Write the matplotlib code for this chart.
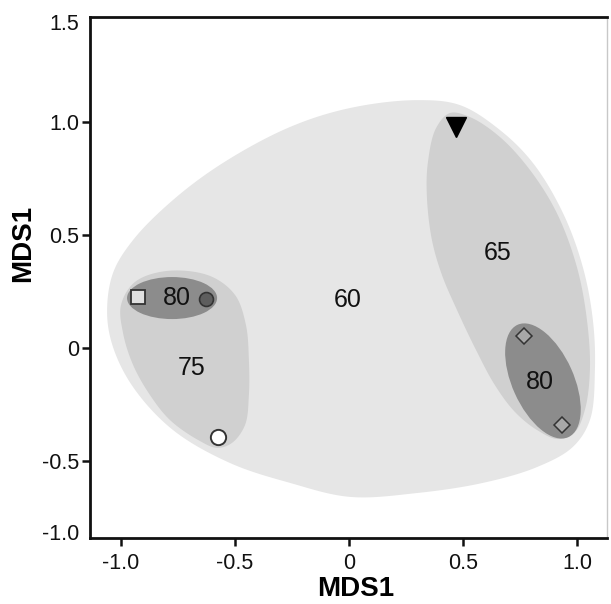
import numpy as np
import matplotlib
matplotlib.use("Agg")
import matplotlib.pyplot as plt
from matplotlib.patches import Ellipse

plt.rcParams['font.family'] = ['Liberation Sans', 'DejaVu Sans']

# ---------------- data ----------------
# sample points (MDS coordinates)
square_pt = (-0.925, 0.226)
dark_circle_pt = (-0.627, 0.217)
white_circle_pt = (-0.575, -0.394)
triangle_pt = (0.469, 0.978)
diamond_x = [0.768, 0.934]
diamond_y = [0.053, -0.341]

# similarity-level groups (outline points of hulls)
hull60_x = [-1.061, -1.035, -0.947, -0.772, -0.553, -0.259, 0.004, 0.298, 0.487, 0.662,
            0.807, 0.939, 1.026, 1.070, 1.079, 1.057, 0.982, 0.825, 0.588, 0.298,
            0.004, -0.259, -0.522, -0.772, -0.947, -1.035]
hull60_y = [0.155, 0.332, 0.478, 0.655, 0.819, 0.978, 1.062, 1.097, 1.075, 0.965,
            0.819, 0.597, 0.358, 0.124, -0.097, -0.319, -0.438, -0.527, -0.597, -0.642,
            -0.659, -0.597, -0.509, -0.363, -0.173, 0.004]

hull75_x = [-0.798, -0.610, -0.500, -0.452, -0.439, -0.439, -0.456, -0.513, -0.579, -0.662,
            -0.785, -0.873, -0.947, -0.991, -1.000, -0.939]
hull75_y = [0.341, 0.319, 0.235, 0.102, -0.053, -0.208, -0.341, -0.420, -0.442, -0.407,
            -0.319, -0.208, -0.075, 0.066, 0.190, 0.292]

hull65_x = [0.443, 0.531, 0.662, 0.794, 0.912, 1.000, 1.044, 1.057, 1.035, 0.991,
            0.917, 0.825, 0.728, 0.640, 0.553, 0.474, 0.408, 0.364, 0.342, 0.346, 0.382]
hull65_y = [1.040, 1.022, 0.934, 0.788, 0.597, 0.358, 0.124, -0.097, -0.274, -0.372,
            -0.403, -0.363, -0.283, -0.164, 0.000, 0.168, 0.323, 0.478, 0.668, 0.819, 0.973]

# 80% groups as ellipses: center x, center y, width, height, angle
ell80_left = (-0.776, 0.221, 0.395, 0.186, 0.0)
ell80_right = (0.851, -0.146, 0.545, 0.27, -66.0)

# group labels
label_text = ["60", "65", "75", "80", "80"]
label_x = [-0.004, 0.654, -0.689, -0.754, 0.838]
label_y = [0.212, 0.420, -0.088, 0.221, -0.150]

x_ticks = [-1.0, -0.5, 0.0, 0.5, 1.0]
x_ticklabels = ["-1.0", "-0.5", "0", "0.5", "1.0"]
y_ticks = [-0.814, -0.5, 0.0, 0.5, 1.0, 1.442]
y_ticklabels = ["-1.0", "-0.5", "0", "0.5", "1.0", "1.5"]
x_limits = (-1.136, 1.132)
y_limits = (-0.841, 1.465)


def closed_smooth(xs, ys, n=40, alpha=0.5):
    P = np.column_stack([xs, ys]).astype(float)
    N = len(P)
    out = []
    for i in range(N):
        p0, p1, p2, p3 = P[(i - 1) % N], P[i], P[(i + 1) % N], P[(i + 2) % N]
        t0 = 0.0
        t1 = t0 + np.linalg.norm(p1 - p0) ** alpha
        t2 = t1 + np.linalg.norm(p2 - p1) ** alpha
        t3 = t2 + np.linalg.norm(p3 - p2) ** alpha
        t = np.linspace(t1, t2, n, endpoint=False)[:, None]
        A1 = (t1 - t) / (t1 - t0) * p0 + (t - t0) / (t1 - t0) * p1
        A2 = (t2 - t) / (t2 - t1) * p1 + (t - t1) / (t2 - t1) * p2
        A3 = (t3 - t) / (t3 - t2) * p2 + (t - t2) / (t3 - t2) * p3
        B1 = (t2 - t) / (t2 - t0) * A1 + (t - t0) / (t2 - t0) * A2
        B2 = (t3 - t) / (t3 - t1) * A2 + (t - t1) / (t3 - t1) * A3
        C = (t2 - t) / (t2 - t1) * B1 + (t - t1) / (t2 - t1) * B2
        out.append(C)
    C = np.vstack(out)
    return C[:, 0], C[:, 1]


W, H = 611, 604
fig = plt.figure(figsize=(W / 100, H / 100), dpi=100)
ax = fig.add_axes([90 / W, 1 - 538 / H, 517 / W, 521 / H])

light = "#e6e6e6"
medium = "#d0d0d0"
dark = "#8c8c8c"

sx, sy = closed_smooth(hull60_x, hull60_y)
ax.fill(sx, sy, color=light, lw=0, zorder=1)
sx, sy = closed_smooth(hull75_x, hull75_y)
ax.fill(sx, sy, color=medium, lw=0, zorder=2)
sx, sy = closed_smooth(hull65_x, hull65_y)
ax.fill(sx, sy, color=medium, lw=0, zorder=2)

for e in (ell80_left, ell80_right):
    ax.add_patch(Ellipse((e[0], e[1]), e[2], e[3], angle=e[4], facecolor=dark,
                         edgecolor='none', zorder=3))

for t, x, y in zip(label_text, label_x, label_y):
    ax.text(x, y, t, fontsize=18, ha='center', va='center', color='#111111', zorder=5)

edge = '#333333'
ax.plot(*square_pt, marker='s', ms=10, mfc='#e0e0e0', mec=edge, mew=1.3, ls='none', zorder=6)
ax.plot(*dark_circle_pt, marker='o', ms=10, mfc='#5e5e5e', mec=edge, mew=1.2, ls='none', zorder=6)
ax.plot(*white_circle_pt, marker='o', ms=11, mfc='white', mec=edge, mew=1.4, ls='none', zorder=6)
ax.plot(*triangle_pt, marker='v', ms=15, mfc='black', mec='black', ls='none', zorder=6)
ax.plot(diamond_x, diamond_y, marker='D', ms=8.5, mfc='#a8a8a8', mec=edge, mew=1.1, ls='none', zorder=6)

ax.set_xlim(*x_limits)
ax.set_ylim(*y_limits)
ax.set_xticks(x_ticks)
ax.set_xticklabels(x_ticklabels)
ax.set_yticks(y_ticks)
ax.set_yticklabels(y_ticklabels)
ax.tick_params(axis='both', direction='out', length=6, width=1.8, labelsize=15.5, colors='#111111')
ax.tick_params(axis='y', pad=2)
ax.tick_params(axis='x', pad=5)
yt = ax.yaxis.get_major_ticks()
yt[0].tick1line.set_visible(False)
yt[-1].tick1line.set_visible(False)

for s in ('left', 'bottom', 'top'):
    ax.spines[s].set_linewidth(2.0)
    ax.spines[s].set_color('#111111')
ax.spines['right'].set_linewidth(1.0)
ax.spines['right'].set_color('#c8c8c8')

ax.set_xlabel("MDS1", fontsize=20, fontweight='bold')
ax.set_ylabel("MDS1", fontsize=20, fontweight='bold')
ax.xaxis.set_label_coords(0.513, -0.098)
ax.yaxis.set_label_coords(-0.13, 0.565)
ax.xaxis.label.set_va('center')
ax.yaxis.label.set_va('center')

fig.savefig("out.png", dpi=100)
